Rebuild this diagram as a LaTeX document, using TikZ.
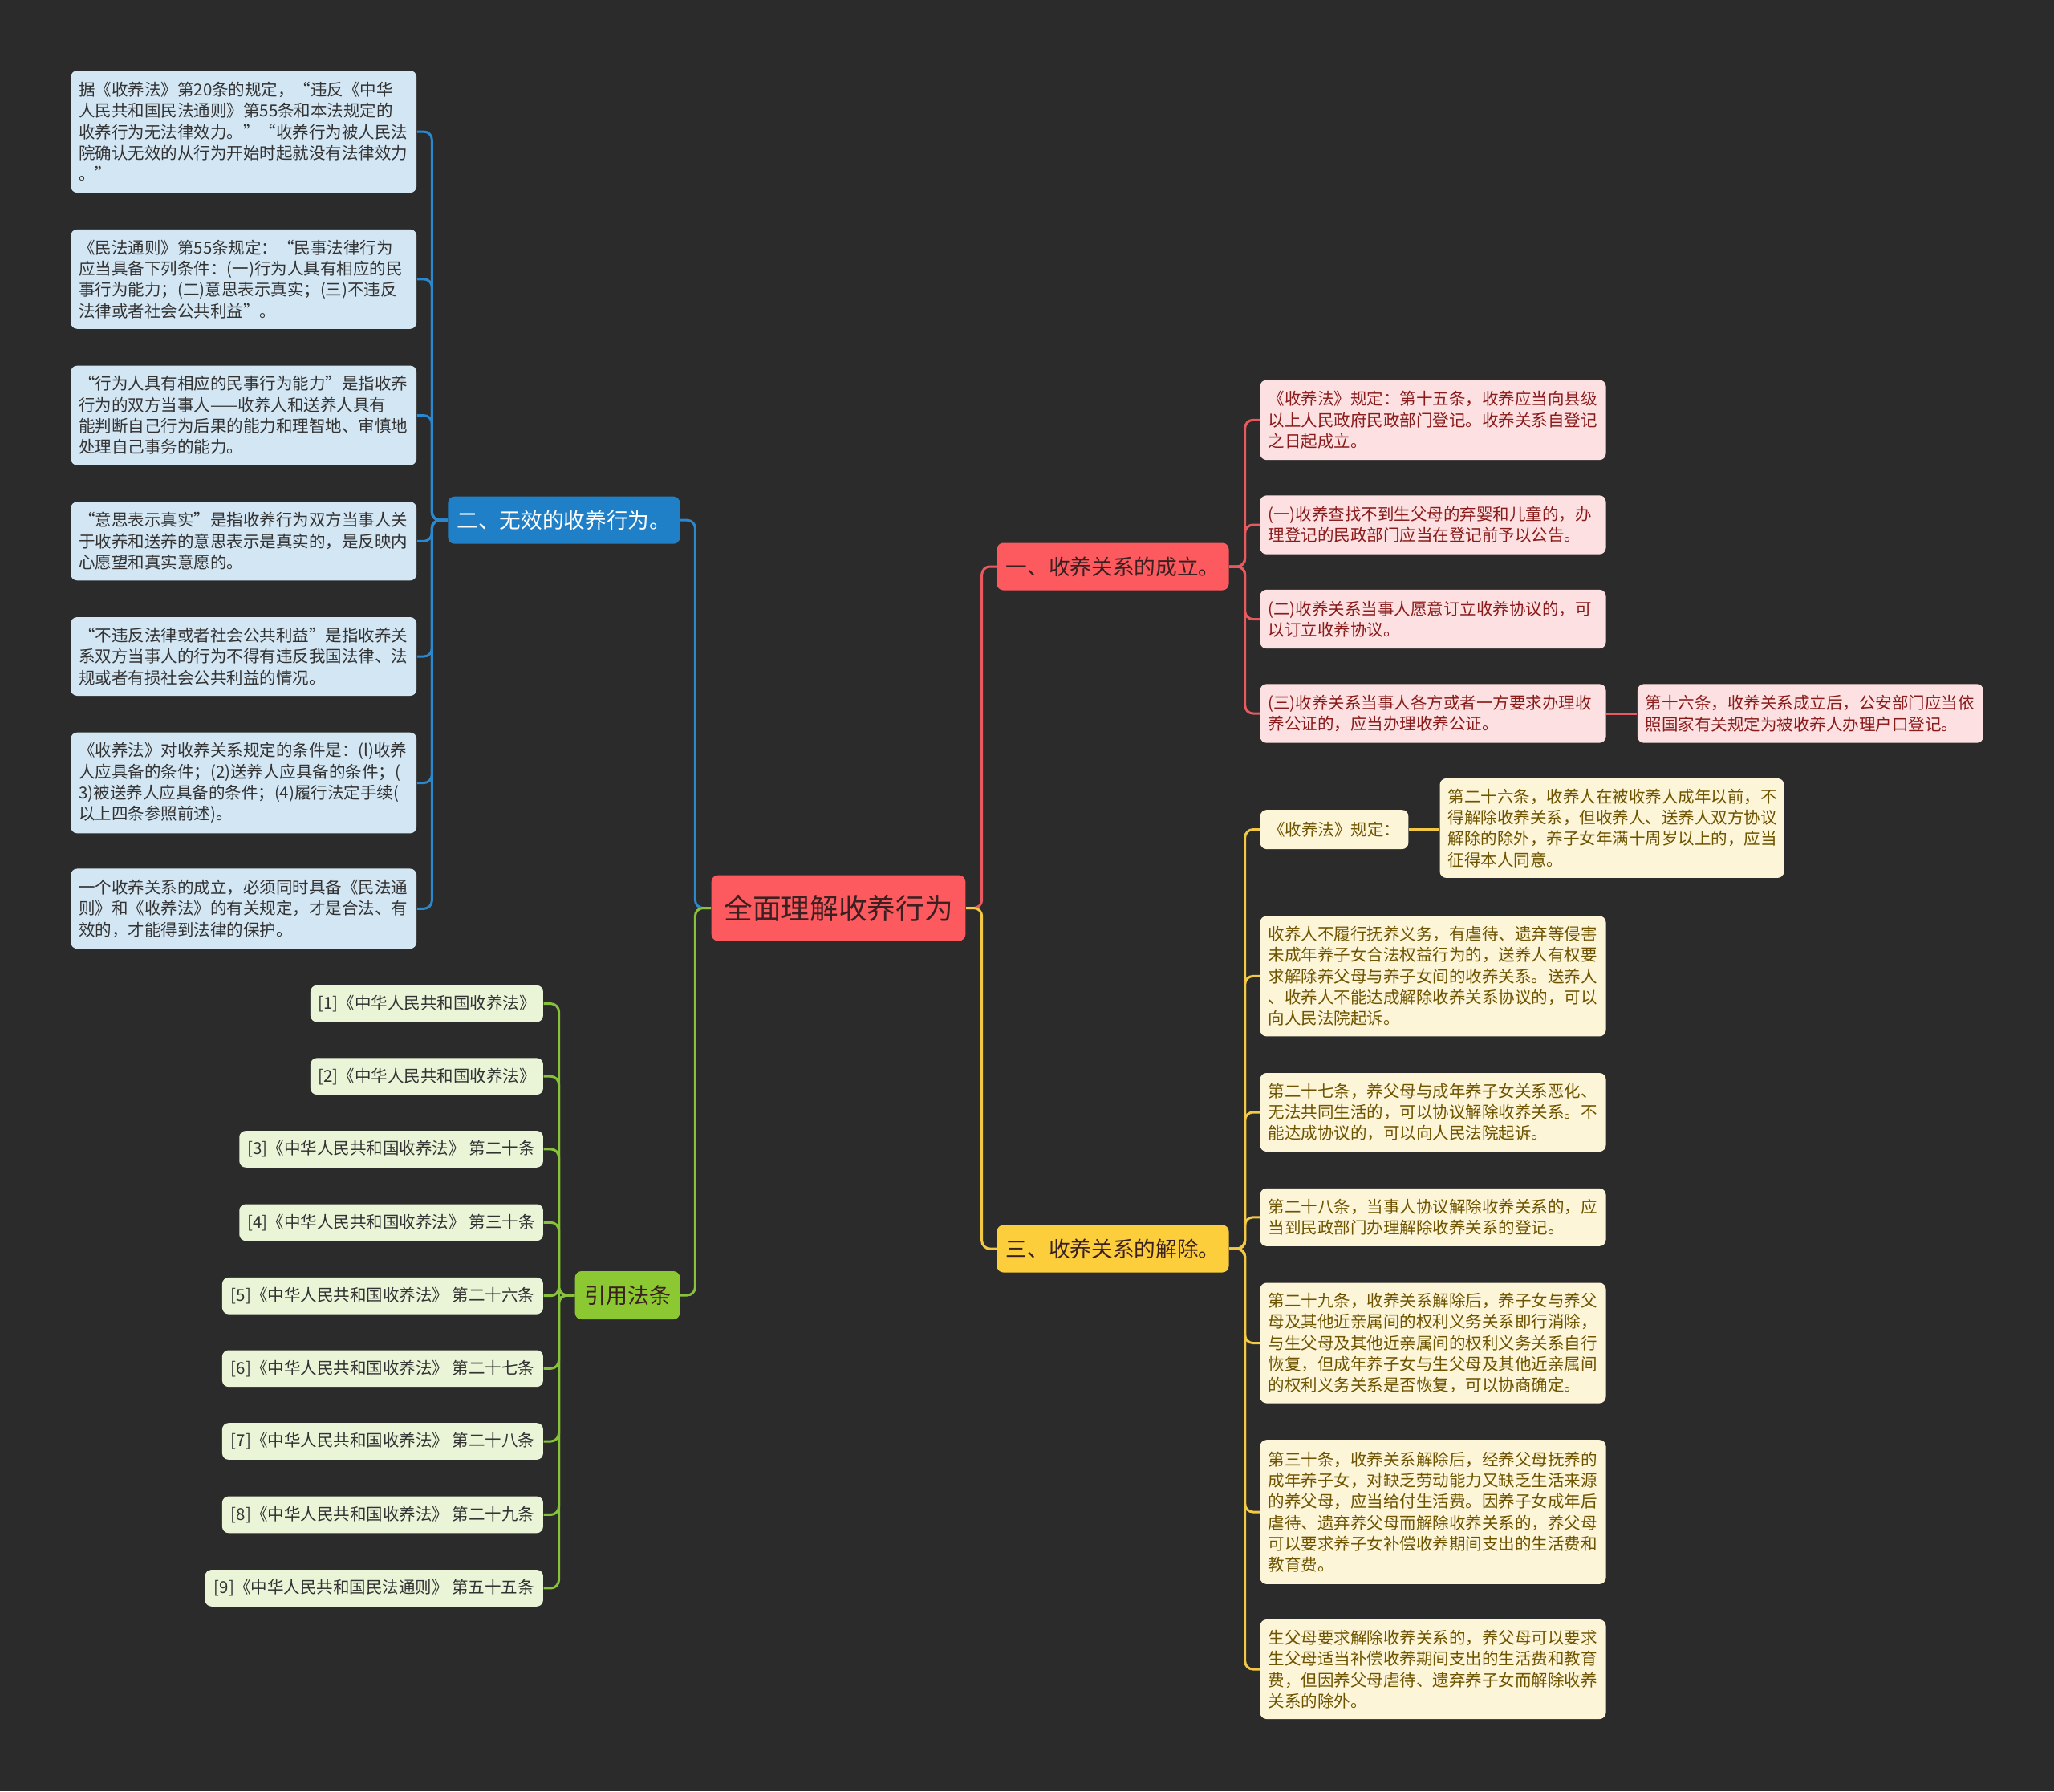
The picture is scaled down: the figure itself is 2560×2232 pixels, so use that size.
\documentclass[tikz,border=0pt]{standalone}
\usepackage{fontspec}
\setmainfont{Noto Sans CJK SC}
\definecolor{bg}{HTML}{2B2B2B}
\definecolor{rootfill}{HTML}{FD5A5F}
\definecolor{darktext}{HTML}{3A2020}
\definecolor{bluenode}{HTML}{1F80C8}
\definecolor{blueline}{HTML}{2A88CE}
\definecolor{blueleaf}{HTML}{D3E6F4}
\definecolor{bluetext}{HTML}{333333}
\definecolor{rednode}{HTML}{FD5A5F}
\definecolor{redline}{HTML}{E85A5F}
\definecolor{redleaf}{HTML}{FDE1E2}
\definecolor{redtext}{HTML}{8A1B1B}
\definecolor{yellownode}{HTML}{FCCE3C}
\definecolor{yellowline}{HTML}{F3C845}
\definecolor{yellowleaf}{HTML}{FDF5D8}
\definecolor{yellowtext}{HTML}{6E5400}
\definecolor{greennode}{HTML}{8CC832}
\definecolor{greenline}{HTML}{86C23A}
\definecolor{greenleaf}{HTML}{EAF5D8}
\definecolor{greentext}{HTML}{333333}
\begin{document}
\begin{tikzpicture}[x=0.3pt,y=-0.3pt,
  leaf/.style={rounded corners=2.4pt, inner xsep=3pt, inner ysep=1pt, align=left,
    text width=123.3pt, minimum width=129.3pt, font=\fontsize{6.15}{7.9}\selectfont},
  bleaf/.style={leaf, fill=blueleaf, text=bluetext},
  rleaf/.style={leaf, fill=redleaf, text=redtext},
  yleaf/.style={leaf, fill=yellowleaf, text=yellowtext},
  gleaf/.style={rounded corners=2.4pt, inner xsep=2pt, inner ysep=1pt, align=center,
    anchor=east, minimum height=13.7pt, fill=greenleaf, text=greentext,
    font=\fontsize{6.15}{7.9}\selectfont},
  branch/.style={rounded corners=2.4pt, inner sep=2pt, minimum width=86.7pt,
    minimum height=17.7pt, font=\fontsize{8}{9.5}\selectfont},
  conn/.style={line width=0.9pt, rounded corners=3pt},
]
\fill[bg] (0,0) rectangle (2560,2232);
\useasboundingbox (0,0) rectangle (2560,2232);

% root
\node[rounded corners=2.4pt, fill=rootfill, text=darktext, minimum width=95pt,
  minimum height=24.5pt, font=\fontsize{10.7}{12}\selectfont] (root) at (1045,1131.5) {全面理解收养行为};

% branches
\node[branch, fill=bluenode, text=white] (bn) at (702.9,648.2) {二、无效的收养行为。};
\node[branch, fill=rednode, text=darktext] (rn) at (1387,706) {一、收养关系的成立。};
\node[branch, fill=yellownode, text=darktext] (yn) at (1387,1556) {三、收养关系的解除。};
\node[branch, fill=greennode, text=darktext, minimum width=39.2pt, minimum height=18pt, font=\fontsize{8.1}{9.5}\selectfont] (gn) at (782,1614) {引用法条};

% blue leaves
\node[bleaf, minimum height=45.6pt] (b1) at (303.7,164.1) {据《收养法》第20条的规定，“违反《中华\\人民共和国民法通则》第55条和本法规定的\\收养行为无法律效力。”“收养行为被人民法\\院确认无效的从行为开始时起就没有法律效力\\。”};
\node[bleaf, minimum height=37.2pt] (b2) at (303.7,347.8) {《民法通则》第55条规定：“民事法律行为\\应当具备下列条件：(一)行为人具有相应的民\\事行为能力；(二)意思表示真实；(三)不违反\\法律或者社会公共利益”。};
\node[bleaf, minimum height=37.2pt] (b3) at (303.7,517.6) {“行为人具有相应的民事行为能力”是指收养\\行为的双方当事人——收养人和送养人具有\\能判断自己行为后果的能力和理智地、审慎地\\处理自己事务的能力。};
\node[bleaf, minimum height=29.4pt] (b4) at (303.7,674.3) {“意思表示真实”是指收养行为双方当事人关\\于收养和送养的意思表示是真实的，是反映内\\心愿望和真实意愿的。};
\node[bleaf, minimum height=29.4pt] (b5) at (303.7,818) {“不违反法律或者社会公共利益”是指收养关\\系双方当事人的行为不得有违反我国法律、法\\规或者有损社会公共利益的情况。};
\node[bleaf, minimum height=37.7pt] (b6) at (303.7,975.5) {《收养法》对收养关系规定的条件是：(l)收养\\人应具备的条件；(2)送养人应具备的条件；(\\3)被送养人应具备的条件；(4)履行法定手续(\\以上四条参照前述)。};
\node[bleaf, minimum height=29.9pt] (b7) at (303.7,1132.3) {一个收养关系的成立，必须同时具备《民法通\\则》和《收养法》的有关规定，才是合法、有\\效的，才能得到法律的保护。};

% red leaves
\node[rleaf, minimum height=29.9pt] (r1) at (1786,523.3) {《收养法》规定：第十五条，收养应当向县级\\以上人民政府民政部门登记。收养关系自登记\\之日起成立。};
\node[rleaf, minimum height=22pt] (r2) at (1786,654) {(一)收养查找不到生父母的弃婴和儿童的，办\\理登记的民政部门应当在登记前予以公告。};
\node[rleaf, minimum height=22pt] (r3) at (1786,771.5) {(二)收养关系当事人愿意订立收养协议的，可\\以订立收养协议。};
\node[rleaf, minimum height=22pt] (r4) at (1786,889) {(三)收养关系当事人各方或者一方要求办理收\\养公证的，应当办理收养公证。};
\node[rleaf, minimum height=22pt] (r5) at (2256.4,889) {第十六条，收养关系成立后，公安部门应当依\\照国家有关规定为被收养人办理户口登记。};

% yellow leaves
\node[yleaf, text width=49.4pt, minimum width=55.4pt, minimum height=14.7pt, align=center] (y1) at (1663,1033.6) {《收养法》规定：};
\node[yleaf, text width=122.7pt, minimum width=128.7pt, minimum height=37.2pt] (y1b) at (2009,1031.9) {第二十六条，收养人在被收养人成年以前，不\\得解除收养关系，但收养人、送养人双方协议\\解除的除外，养子女年满十周岁以上的，应当\\征得本人同意。};
\node[yleaf, minimum height=45pt] (y2) at (1786,1216.4) {收养人不履行抚养义务，有虐待、遗弃等侵害\\未成年养子女合法权益行为的，送养人有权要\\求解除养父母与养子女间的收养关系。送养人\\、收养人不能达成解除收养关系协议的，可以\\向人民法院起诉。};
\node[yleaf, minimum height=29.4pt] (y3) at (1786,1386) {第二十七条，养父母与成年养子女关系恶化、\\无法共同生活的，可以协议解除收养关系。不\\能达成协议的，可以向人民法院起诉。};
\node[yleaf, minimum height=21.6pt] (y4) at (1786,1516.8) {第二十八条，当事人协议解除收养关系的，应\\当到民政部门办理解除收养关系的登记。};
\node[yleaf, minimum height=45pt] (y5) at (1786,1673.5) {第二十九条，收养关系解除后，养子女与养父\\母及其他近亲属间的权利义务关系即行消除，\\与生父母及其他近亲属间的权利义务关系自行\\恢复，但成年养子女与生父母及其他近亲属间\\的权利义务关系是否恢复，可以协商确定。};
\node[yleaf, minimum height=53.9pt] (y6) at (1786,1884) {第三十条，收养关系解除后，经养父母抚养的\\成年养子女，对缺乏劳动能力又缺乏生活来源\\的养父母，应当给付生活费。因养子女成年后\\虐待、遗弃养父母而解除收养关系的，养父母\\可以要求养子女补偿收养期间支出的生活费和\\教育费。};
\node[yleaf, minimum height=37.2pt] (y7) at (1786,2080) {生父母要求解除收养关系的，养父母可以要求\\生父母适当补偿收养期间支出的生活费和教育\\费，但因养父母虐待、遗弃养子女而解除收养\\关系的除外。};

% green leaves
\node[gleaf, minimum width=87pt] (g1) at (677.6,1250.6) {[1]《中华人民共和国收养法》};
\node[gleaf, minimum width=87pt] (g2) at (677.6,1341.2) {[2]《中华人民共和国收养法》};
\node[gleaf, minimum width=113.6pt] (g3) at (677.6,1431.9) {[3]《中华人民共和国收养法》 第二十条};
\node[gleaf, minimum width=113.6pt] (g4) at (677.6,1523.3) {[4]《中华人民共和国收养法》 第三十条};
\node[gleaf, minimum width=120pt] (g5) at (677.6,1614.7) {[5]《中华人民共和国收养法》 第二十六条};
\node[gleaf, minimum width=120pt] (g6) at (677.6,1705.3) {[6]《中华人民共和国收养法》 第二十七条};
\node[gleaf, minimum width=120pt] (g7) at (677.6,1796) {[7]《中华人民共和国收养法》 第二十八条};
\node[gleaf, minimum width=120pt] (g8) at (677.6,1887.4) {[8]《中华人民共和国收养法》 第二十九条};
\node[gleaf, minimum width=126.4pt] (g9) at (677.6,1978.9) {[9]《中华人民共和国民法通则》 第五十五条};

% connectors: root to branches
\draw[conn, blueline] (root.west) -- ++(-19.6,0) |- (bn.east);
\draw[conn, greenline] (root.west) -- ++(-19.6,0) |- (gn.east);
\draw[conn, redline] (root.east) -- ++(19.7,0) |- (rn.west);
\draw[conn, yellowline] (root.east) -- ++(19.7,0) |- (yn.west);

% blue
\foreach \n in {b1,b2,b3,b4,b5,b6,b7}
  \draw[conn, blueline] (bn.west) -- ++(-19.4,0) |- (\n.east);
% red
\foreach \n in {r1,r2,r3,r4}
  \draw[conn, redline] (rn.east) -- ++(19.5,0) |- (\n.west);
\draw[conn, redline] (r4.east) -- (r4.east -| r5.west);
% yellow
\foreach \n in {y1,y2,y3,y4,y5,y6,y7}
  \draw[conn, yellowline] (yn.east) -- ++(19.5,0) |- (\n.west);
\draw[conn, yellowline] (y1.east) -- (y1.east -| y1b.west);
% green
\foreach \n in {g1,g2,g3,g4,g5,g6,g7,g8,g9}
  \draw[conn, greenline] (gn.west) -- ++(-19.5,0) |- (\n.east);
\end{tikzpicture}
\end{document}
